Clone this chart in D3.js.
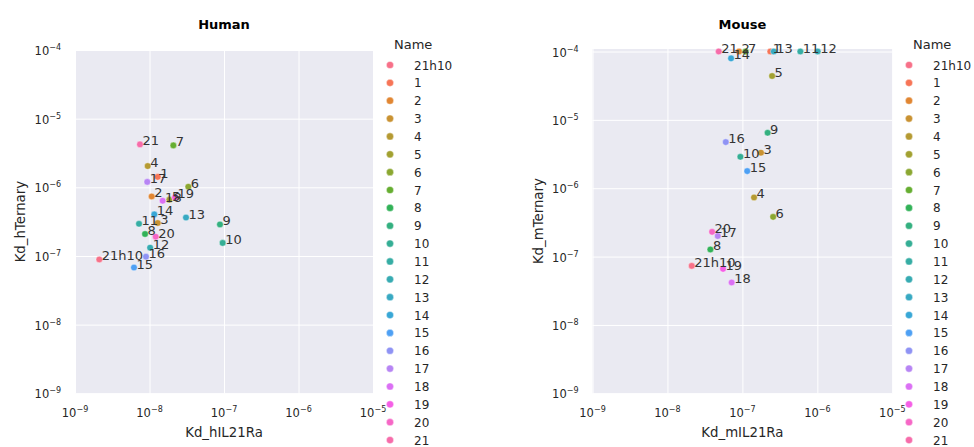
<!DOCTYPE html>
<html><head><meta charset="utf-8">
<script src="https://cdn.jsdelivr.net/npm/d3@7"></script>
<style>
body{margin:0;background:#fff;}
svg{display:block;font-family:"DejaVu Sans",sans-serif;}
</style></head>
<body><svg id="c" width="974" height="447"></svg>
<script>
const names = ["21h10","1","2","3","4","5","6","7","8","9","10","11","12","13","14","15","16","17","18","19","20","21"];
const humanX = [2.12e-9,1.29e-8,1.07e-8,1.29e-8,9.46e-9,1.85e-8,3.32e-8,2.09e-8,8.71e-9,8.83e-8,9.59e-8,7.23e-9,1.02e-8,3.09e-8,1.16e-8,6.19e-9,8.97e-9,9.33e-9,1.50e-8,2.20e-8,1.21e-8,7.45e-9];
const humanY = [8.9e-8,1.42e-6,7.36e-7,3.02e-7,2.04e-6,6.61e-7,1.02e-6,4.08e-6,2.09e-7,2.88e-7,1.55e-7,2.94e-7,1.32e-7,3.63e-7,4.03e-7,6.79e-8,9.77e-8,1.20e-6,6.37e-7,7.13e-7,1.91e-7,4.22e-6];
const mouseX = [2.11e-8,2.36e-7,9.02e-8,1.77e-7,1.43e-7,2.49e-7,2.57e-7,1.10e-7,3.74e-8,2.17e-7,9.40e-8,5.93e-7,1.01e-6,2.62e-7,7.06e-8,1.16e-7,6.0e-8,4.69e-8,7.19e-8,5.52e-8,3.94e-8,4.83e-8];
const mouseY = [7.31e-8,1e-4,1e-4,3.31e-6,7.33e-7,4.38e-5,3.81e-7,1e-4,1.27e-7,6.47e-6,2.88e-6,1e-4,1e-4,1e-4,7.94e-5,1.78e-6,4.73e-6,2.0e-7,4.18e-8,6.61e-8,2.30e-7,1e-4];
const tickVals = [1e-9,1e-8,1e-7,1e-6,1e-5,1e-4];
const tickExps = ["−9","−8","−7","−6","−5","−4"];

// seaborn husl palette
function huslToRgb(H,S,L){
  const m=[[3.2406,-1.5372,-0.4986],[-0.9689,1.8758,0.0415],[0.0557,-0.2040,1.0570]];
  const refU=0.19784, refV=0.46834, kappa=24389/27, eps=216/24389;
  function maxChroma(L,H){
    const hr=H*Math.PI/180, sinH=Math.sin(hr), cosH=Math.cos(hr);
    const sub1=Math.pow(L+16,3)/1560896; const sub2=sub1>0.008856?sub1:L/903.3;
    let res=Infinity;
    for(const r of m){
      const top=(0.99915*r[0]+1.05122*r[1]+1.14460*r[2])*sub2;
      const rb=0.86330*r[2]-0.17266*r[1], lb=0.12949*r[2]-0.38848*r[0];
      const bottom=(rb*sinH+lb*cosH)*sub2;
      for(const t of [0,1]){const C=L*(top-1.05122*t)/(bottom+0.17266*sinH*t); if(C>0&&C<res)res=C;}
    }
    return res;
  }
  const C=maxChroma(L,H)/100*S;
  const hr=H*Math.PI/180; const U=Math.cos(hr)*C, V=Math.sin(hr)*C;
  const t=(L+16)/116; const Y=Math.pow(t,3)>eps?Math.pow(t,3):(116*t-16)/kappa;
  const vU=U/(13*L)+refU, vV=V/(13*L)+refV;
  const X=-(9*Y*vU)/((vU-4)*vV-vU*vV);
  const Z=(9*Y-15*vV*Y-vV*X)/(3*vV);
  const fl=c=>c<=0.0031308?12.92*c:1.055*Math.pow(c,1/2.4)-0.055;
  const rgb=m.map(r=>Math.max(0,Math.min(1,fl(r[0]*X+r[1]*Y+r[2]*Z))));
  return d3.rgb(rgb[0]*255,rgb[1]*255,rgb[2]*255).formatHex();
}
function huslPalette(n){
  const out=[];
  for(let i=0;i<n;i++){let h=(i/n+0.01)%1; out.push(huslToRgb(h*359,0.9*99,0.65*99));}
  return out;
}
const color=d3.scaleOrdinal().domain(names).range(huslPalette(names.length));

const svg=d3.select("#c");
const TXT="#262626";

function panel(cfg){
  const {x0,x1,y0,y1,yTop,title,xs,ys,xlab,ylab,legX}=cfg;
  const x=d3.scaleLog().domain([1e-9,1e-5]).range([x0,x1]);
  const y=d3.scaleLog().domain([1e-9,yTop]).range([y1,y0]);
  const g=svg.append("g");
  g.append("rect").attr("x",x0).attr("y",y0).attr("width",x1-x0).attr("height",y1-y0).attr("fill","#EAEAF2");
  const gx=g.append("g").attr("transform",`translate(0,${y1})`)
    .call(d3.axisBottom(x).tickValues(tickVals.slice(0,5)).tickSize(-(y1-y0)).tickFormat(""));
  gx.select(".domain").remove();
  gx.selectAll("line").attr("stroke","#fff").attr("stroke-width",1);
  const gy=g.append("g").attr("transform",`translate(${x0},0)`)
    .call(d3.axisLeft(y).tickValues(tickVals).tickSize(-(x1-x0)).tickFormat(""));
  gy.select(".domain").remove();
  gy.selectAll("line").attr("stroke","#fff").attr("stroke-width",1);
  tickVals.slice(0,5).forEach((v,i)=>{
    const t=g.append("text").attr("x",x(v)).attr("y",417).attr("text-anchor","middle").attr("fill",TXT).attr("font-size","11.5px");
    t.append("tspan").text("10");
    t.append("tspan").attr("dy",-5).attr("font-size","8px").text(tickExps[i]);
  });
  tickVals.forEach((v,i)=>{
    const t=g.append("text").attr("x",x0-14).attr("y",y(v)+5).attr("text-anchor","end").attr("fill",TXT).attr("font-size","11.5px");
    t.append("tspan").text("10");
    t.append("tspan").attr("dy",-5).attr("font-size","8px").text(tickExps[i]);
  });
  g.append("text").attr("x",(x0+x1)/2).attr("y",437).attr("text-anchor","middle").attr("fill",TXT).attr("font-size","13.3px").text(xlab);
  g.append("text").attr("transform",`translate(${x0-50},${(y0+y1)/2}) rotate(-90)`).attr("text-anchor","middle").attr("fill",TXT).attr("font-size","13.3px").text(ylab);
  g.append("text").attr("x",(x0+x1)/2).attr("y",29).attr("text-anchor","middle").attr("fill","#000").attr("font-weight","bold").attr("font-size","13px").text(title);
  const data=names.map((n,i)=>({n,x:xs[i],y:ys[i]}));
  g.append("g").selectAll("circle").data(data).join("circle")
    .attr("cx",d=>x(d.x)).attr("cy",d=>y(d.y)).attr("r",3.3)
    .attr("fill",d=>color(d.n)).attr("stroke","#fff").attr("stroke-width",0.4);
  g.append("g").selectAll("text").data(data).join("text")
    .attr("x",d=>x(d.x)+2.5).attr("y",d=>y(d.y)+1)
    .attr("fill","#333").attr("font-size","13px").text(d=>d.n);
  const lg=g.append("g");
  lg.append("text").attr("x",legX+4).attr("y",49).attr("fill",TXT).attr("font-size","13px").text("Name");
  names.forEach((n,i)=>{
    const yy=65+i*17.86;
    lg.append("circle").attr("cx",legX).attr("cy",yy).attr("r",3.6).attr("fill",color(n)).attr("stroke","#fff").attr("stroke-width",0.4);
    lg.append("text").attr("x",legX+24).attr("y",yy+4.5).attr("fill",TXT).attr("font-size","12px").text(n);
  });
}

panel({x0:75,x1:373,y0:50,y1:393.3,yTop:1e-4,title:"Human",xs:humanX,ys:humanY,xlab:"Kd_hIL21Ra",ylab:"Kd_hTernary",legX:390});
panel({x0:592.5,x1:892.3,y0:49,y1:393.3,yTop:1.088e-4,title:"Mouse",xs:mouseX,ys:mouseY,xlab:"Kd_mIL21Ra",ylab:"Kd_mTernary",legX:909});
</script></body></html>
